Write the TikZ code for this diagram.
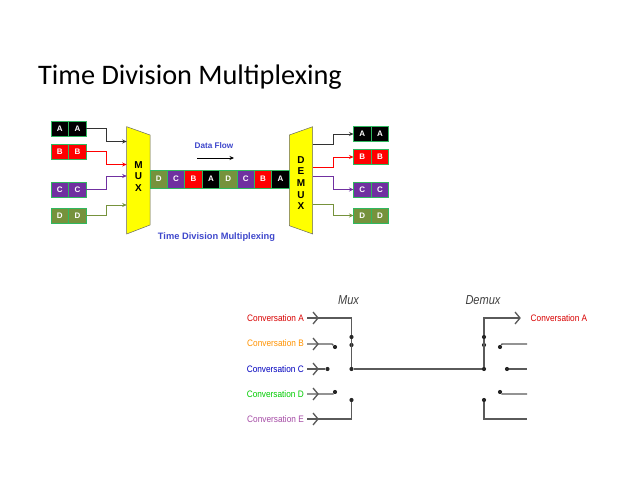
\documentclass[tikz,border=0pt]{standalone}
\usepackage{fontspec}
\setmainfont{Liberation Sans}
\newfontfamily\titlefont{Carlito}
\newfontfamily\convfont[FakeStretch=0.88]{Liberation Sans}
\newfontfamily\headfont[FakeStretch=0.85]{Liberation Sans}
\usetikzlibrary{arrows.meta,calc}
\definecolor{cA}{HTML}{000000}
\definecolor{cB}{HTML}{FF0000}
\definecolor{cC}{HTML}{7030A0}
\definecolor{cD}{HTML}{76923C}
\definecolor{bord}{HTML}{2FB85F}
\definecolor{ylw}{HTML}{FFFF00}
\definecolor{tblue}{HTML}{3F48CC}
\definecolor{wire}{HTML}{5A5A5A}
\tikzset{
  cellbox/.style={draw=bord,line width=0.9pt,inner sep=0pt,outer sep=0pt,text=white,anchor=north west,
    minimum width=17.7pt,minimum height=15pt,font=\bfseries\fontsize{8}{9}\selectfont},
  streamcell/.style={cellbox,minimum height=18pt,minimum width=17.4pt},
  funnel/.style={draw=black!60,fill=ylw,line width=0.5pt},
  muxlabel/.style={align=center,inner sep=0pt,font=\bfseries\fontsize{10}{11.6}\selectfont},
  feed/.style={line width=0.8pt,-{Stealth[length=4.5pt,width=4pt]}},
  wirepath/.style={draw=wire,line width=1.3pt},
  tick/.style={wire,line width=2pt},
  jack/.style={wire,line width=1.3pt},
  contact/.style={circle,fill=black!85,inner sep=0pt,minimum size=4.2pt},
  convo/.style={anchor=east,inner sep=0pt,font=\convfont\fontsize{9.4}{10}\selectfont},
  head/.style={inner sep=0pt,font=\headfont\itshape\fontsize{13}{14}\selectfont,text=black!75}
}
\newcommand{\cellpair}[5]{%
  \node[cellbox,fill=#4] (#1a) at (#2,#3) {#5};
  \node[cellbox,fill=#4] (#1b) at (#1a.north east) {#5};
}
\newcommand{\fork}[1]{%
  \draw[jack] ($(#1)+(-4,-6)$) -- ($(#1)+(1,0)$) -- ($(#1)+(-4,6)$);
}
\begin{document}
\begin{tikzpicture}[x=1pt,y=-1pt]
\useasboundingbox[fill=white] (0,0) rectangle (638,478);
\node[anchor=west,inner sep=0pt,font=\titlefont\fontsize{28.3}{32}\selectfont] (title) at (38,77) {Time Division Multiplexing};

% top figure
\cellpair{la}{51}{121}{cA}{A}
\cellpair{lb}{51}{144}{cB}{B}
\cellpair{lc}{51}{182}{cC}{C}
\cellpair{ld}{51}{208}{cD}{D}
\cellpair{ra}{353.5}{126.5}{cA}{A}
\cellpair{rb}{353.5}{149.5}{cB}{B}
\cellpair{rc}{353.5}{182}{cC}{C}
\cellpair{rd}{353.5}{208}{cD}{D}

\draw[funnel] (126.7,126.7) -- (150,135) -- (150,225) -- (126.7,234) -- cycle;
\draw[funnel] (289.3,135) -- (312.7,126.7) -- (312.7,234) -- (289.3,225.7) -- cycle;
\node[muxlabel] (mux) at (138.5,176.5) {M\\U\\X};
\node[muxlabel] (demux) at (301,183) {D\\E\\M\\U\\X};

\node[streamcell,fill=cD] (s1) at (150,170) {D};
\node[streamcell,fill=cC] (s2) at (s1.north east) {C};
\node[streamcell,fill=cB] (s3) at (s2.north east) {B};
\node[streamcell,fill=cA] (s4) at (s3.north east) {A};
\node[streamcell,fill=cD] (s5) at (s4.north east) {D};
\node[streamcell,fill=cC] (s6) at (s5.north east) {C};
\node[streamcell,fill=cB] (s7) at (s6.north east) {B};
\node[streamcell,fill=cA] (s8) at (s7.north east) {A};

\coordinate (ma) at (126.7,141.5);
\coordinate (mb) at (126.7,164.5);
\coordinate (mc) at (126.7,176);
\coordinate (md) at (126.7,205);
\coordinate (da) at (312.7,144);
\coordinate (db) at (312.7,167.5);
\coordinate (dc) at (312.7,176);
\coordinate (dd) at (312.7,204);
\draw[feed,draw=black!80] (lab.east) -- ++(20,0) |- (ma);
\draw[feed,draw=cB] (lbb.east) -- ++(20,0) |- (mb);
\draw[feed,draw=cC] (lcb.east) -- ++(20,0) |- (mc);
\draw[feed,draw=cD] (ldb.east) -- ++(20,0) |- (md);
\draw[feed,draw=black!80] (da) -- ++(20.5,0) |- (raa.west);
\draw[feed,draw=cB] (db) -- ++(20.5,0) |- (rba.west);
\draw[feed,draw=cC] (dc) -- ++(20.5,0) |- (rca.west);
\draw[feed,draw=cD] (dd) -- ++(20.5,0) |- (rda.west);

\node[inner sep=0pt,text=tblue,font=\bfseries\fontsize{8.2}{9}\selectfont] (flow) at (214,146) {Data Flow};
\coordinate (fl) at (197,158);
\coordinate (fr) at (234,158);
\draw[line width=0.9pt,-{Stealth[length=4.5pt,width=4pt]}] (fl) -- (fr);
\node[inner sep=0pt,text=tblue,font=\bfseries\fontsize{9.3}{10}\selectfont] (cap) at (216.5,237) {Time Division Multiplexing};

% bottom figure
\node[head] (muxh) at (348.5,300) {Mux};
\node[head] (demuxh) at (483,300) {Demux};
\node[convo,text=red!85!black] (ca) at (304,318) {Conversation A};
\node[convo,text=orange!85!yellow] (cb) at (304,343) {Conversation B};
\node[convo,text=blue!75!black] (cc) at (304,369) {Conversation C};
\node[convo,text=green!80!black] (cd) at (304,394) {Conversation D};
\node[convo,text=violet!70!white] (ce) at (304,419) {Conversation E};
\node[convo,anchor=west,text=red!85!black] (oa) at (530.5,318) {Conversation A};

\coordinate (ja) at (317,318);
\coordinate (jb) at (317,344);
\coordinate (jc) at (317,369);
\coordinate (jd) at (317,394);
\coordinate (je) at (317,419);
\node[contact] (ma1) at (351.5,337) {};
\node[contact] (ma2) at (351.5,345) {};
\node[contact] (mj) at (351.5,369) {};
\node[contact] (mbc) at (335,347) {};
\node[contact] (mcc) at (327.5,369) {};
\node[contact] (mdc) at (335,392) {};
\node[contact] (mec) at (351.5,400) {};
\node[contact] (da1) at (484,337) {};
\node[contact] (da2) at (484,345) {};
\node[contact] (dj) at (484,369) {};
\node[contact] (dbc) at (500,347) {};
\node[contact] (dcc) at (507,369) {};
\node[contact] (ddc) at (500,392) {};
\node[contact] (dec) at (484,400) {};
\coordinate (eb) at (527,344);
\coordinate (ec) at (527,369);
\coordinate (ed) at (527,394);
\coordinate (ee) at (527,419);
\coordinate (ea) at (520,318);

\foreach \j in {ja,jb,jc,jd,je}{\fork{\j}}
\draw[jack] ($(ea)+(-5,-6)$) -- (ea) -- ($(ea)+(-5,6)$);

\draw[wirepath] (ca.east) ++(3,0) -- (ja) -| (ma1);
\draw[wirepath] (ma1) -- (mj);
\draw[wirepath] (cb.east) ++(3,1) -- (jb) -- (332,344) -- (mbc);
\draw[wirepath] (cc.east) ++(3,0) -- (mcc);
\draw[wirepath] (cd.east) ++(3,0) -- (333,394) -- (mdc);
\draw[wirepath] (ce.east) ++(3,0) -- (351.5,419) -- (mec);
\draw[wirepath] (mj) -- (dj);
\draw[tick] (385,369) -- (394,369);
\draw[tick] (442,369) -- (455,369);
\draw[wirepath] (dj) -- (da1);
\draw[wirepath] (da1) |- (ea);
\draw[wirepath] (dbc) -- (502,344) -- (eb);
\draw[wirepath] (dcc) -- (ec);
\draw[wirepath] (ddc) -- (502,394) -- (ed);
\draw[wirepath] (dec) |- (ee);
\end{tikzpicture}
\end{document}
